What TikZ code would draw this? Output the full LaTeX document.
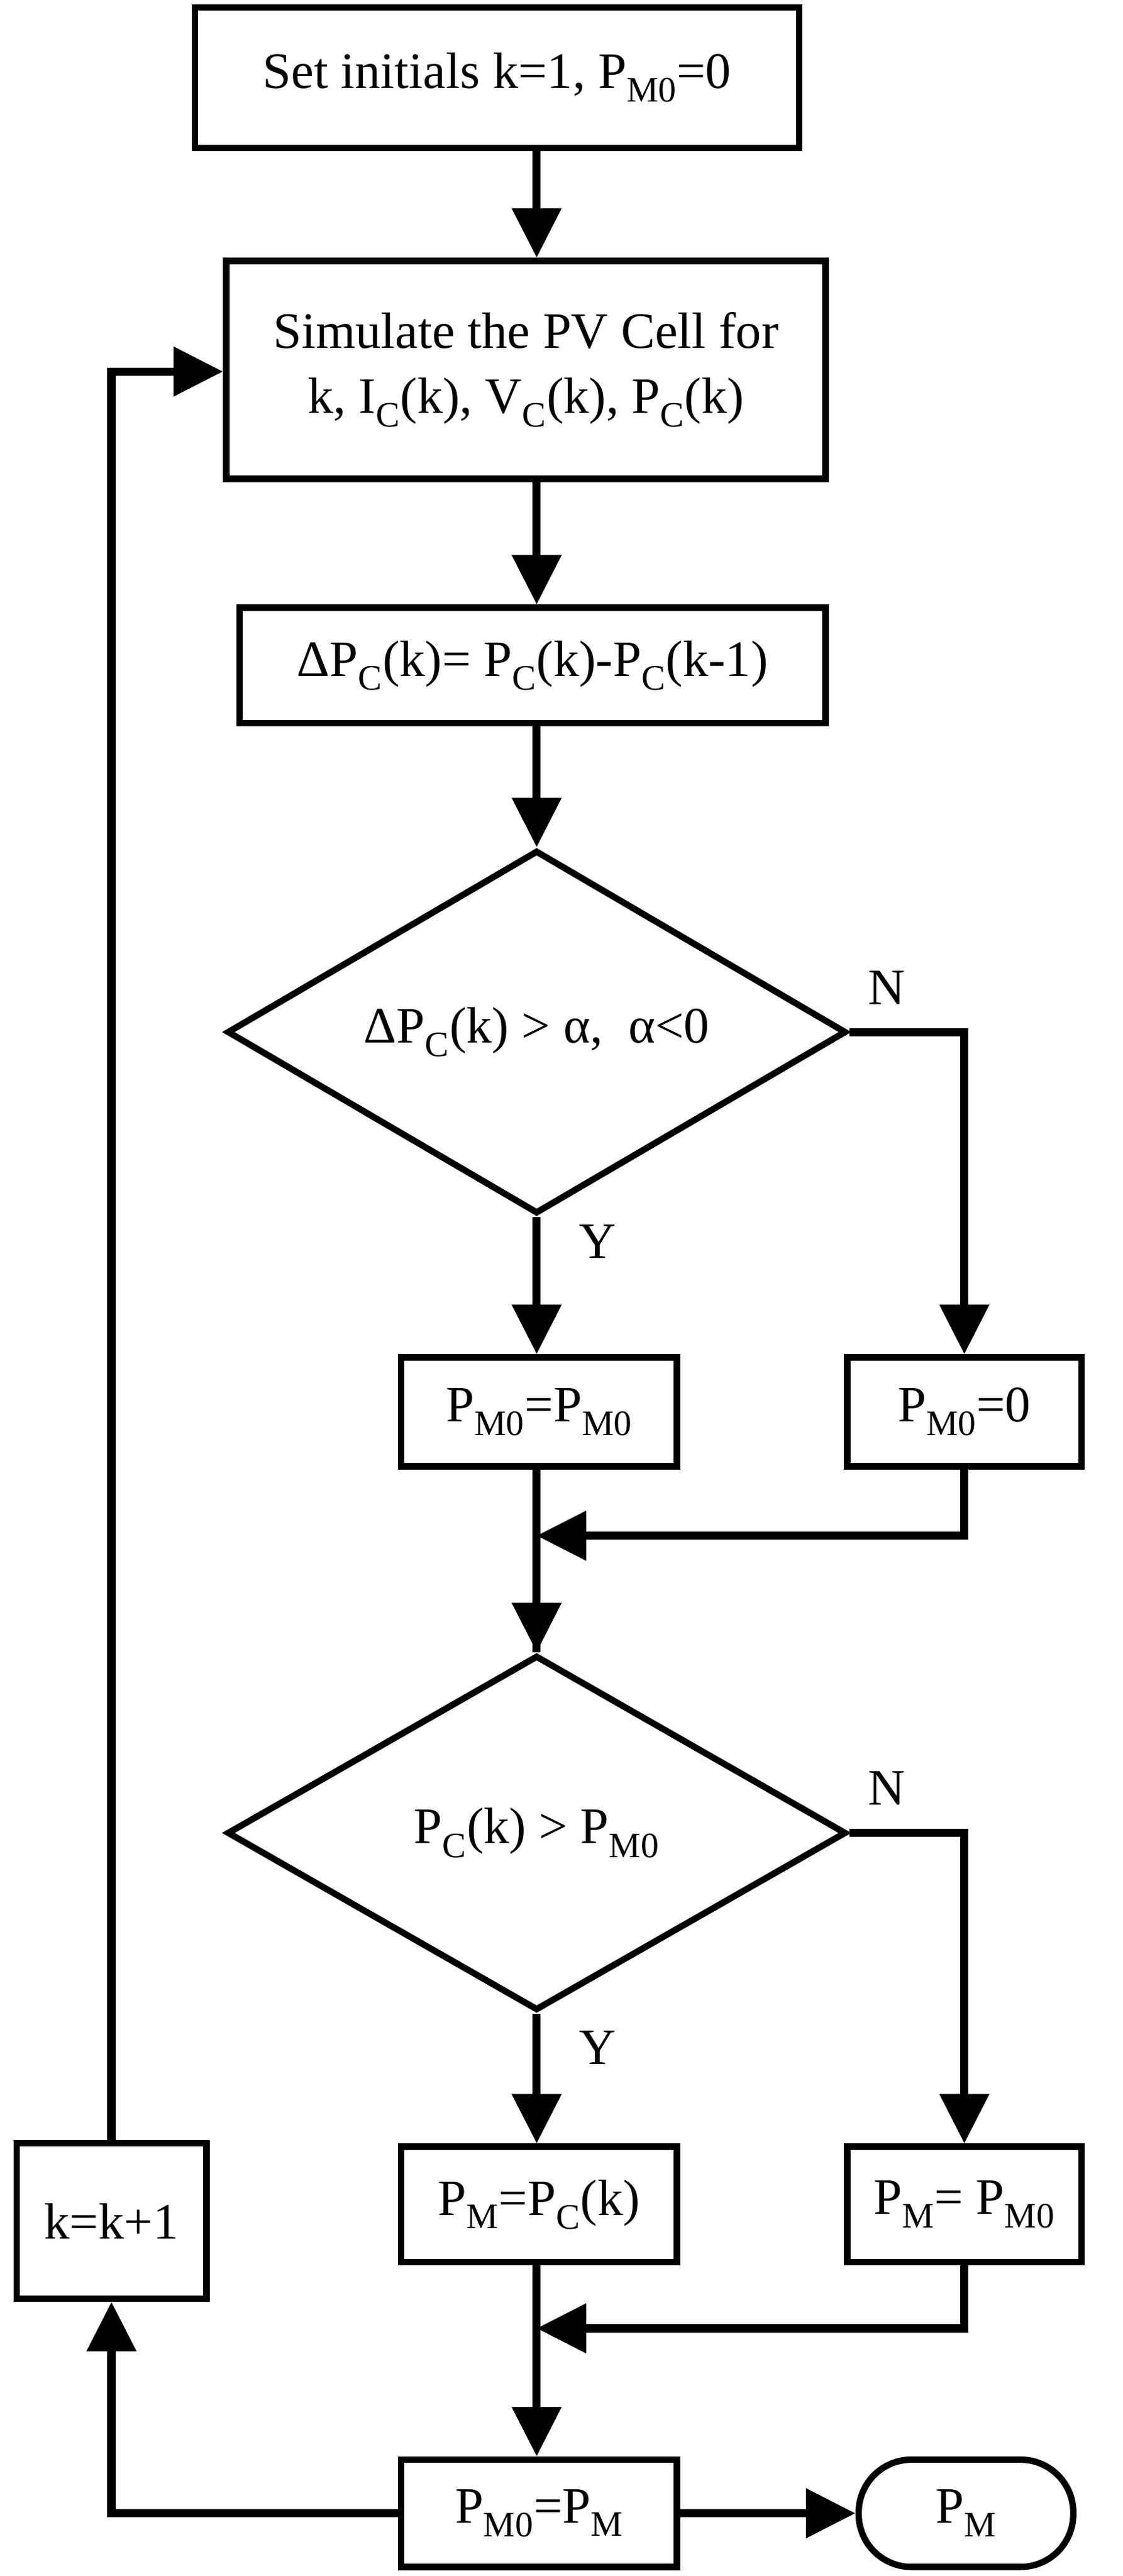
\documentclass[tikz,border=0pt]{standalone}
\usepackage{fontspec}
\setmainfont{Liberation Serif}
\usetikzlibrary{arrows.meta,shapes.geometric}
\begin{document}
\begin{tikzpicture}[x=0.05cm,y=-0.05cm,
  every node/.style={font=\fontsize{44}{54}\selectfont},
  box/.style={draw,line width=5.5pt,inner sep=0pt,align=center},
  ln/.style={line width=7pt},
  ar/.style={line width=7pt,-{Triangle[length=1.5cm,width=1.45cm]}}]
\useasboundingbox (0,0) rectangle (680,1560);
\node[box,minimum width=18.3cm,minimum height=4.25cm] (b1) at (301,47) {Set initials k=1, P$_{\mathrm{M0}}$=0};
\node[box,minimum width=18.15cm,minimum height=6.6cm] (b2) at (318.5,224) {Simulate the PV Cell for\\[2pt] k, I$_{\mathrm{C}}$(k), V$_{\mathrm{C}}$(k), P$_{\mathrm{C}}$(k)};
\node[box,minimum width=17.75cm,minimum height=3.5cm] (b3) at (322.5,403) {ΔP$_{\mathrm{C}}$(k)= P$_{\mathrm{C}}$(k)-P$_{\mathrm{C}}$(k-1)};
\node[diamond,draw,line width=5.5pt,minimum width=18.75cm,minimum height=11cm,inner sep=0pt,aspect=1.7] (d1) at (325,625) {};
\node at (325,625) {ΔP$_{\mathrm{C}}$(k) > α,\ \ α<0};
\node[box,minimum width=8.35cm,minimum height=3.3cm] (b4) at (326.5,855) {P$_{\mathrm{M0}}$=P$_{\mathrm{M0}}$};
\node[box,minimum width=7.1cm,minimum height=3.3cm] (b5) at (584,855) {P$_{\mathrm{M0}}$=0};
\node[diamond,draw,line width=5.5pt,minimum width=18.75cm,minimum height=10.75cm,inner sep=0pt,aspect=1.7] (d2) at (325,1110) {};
\node at (325,1110) {P$_{\mathrm{C}}$(k) > P$_{\mathrm{M0}}$};
\node[box,minimum width=8.35cm,minimum height=3.5cm] (b6) at (326.5,1335) {P$_{\mathrm{M}}$=P$_{\mathrm{C}}$(k)};
\node[box,minimum width=7.1cm,minimum height=3.5cm] (b7) at (584,1335) {P$_{\mathrm{M}}$= P$_{\mathrm{M0}}$};
\node[box,minimum width=8.35cm,minimum height=3.25cm] (b8) at (326.5,1522) {P$_{\mathrm{M0}}$=P$_{\mathrm{M}}$};
\node[box,rounded corners=1.6cm,minimum width=6.5cm,minimum height=3.25cm] (t) at (585,1522) {P$_{\mathrm{M}}$};
\node[box,minimum width=5.75cm,minimum height=4.7cm] (k) at (67.5,1345) {k=k+1};
\node at (362,752) {Y};
\node at (537,598) {N};
\node at (362,1240) {Y};
\node at (537,1083) {N};
\coordinate (m1) at (325,930);
\coordinate (m2) at (325,1410);
\draw[ar] (b1.south -| d1) -- (b2.north -| d1);
\draw[ar] (b2.south -| d1) -- (b3.north -| d1);
\draw[ar] (b3.south -| d1) -- (d1.north);
\draw[ar] (d1.south) -- (b4.north -| d1);
\draw[ar] (d1.east) -| (b5.north);
\draw[ln] (b4.south -| d1) -- (d2.north);
\draw[ar] (b5.south) |- (m1);
\draw[ar] (m1) -- (d2.north);
\draw[ar] (d2.south) -- (b6.north -| d2);
\draw[ar] (d2.east) -| (b7.north);
\draw[ar] (b6.south -| d2) -- (b8.north -| d2);
\draw[ar] (b7.south) |- (m2);
\draw[ar] (b8) -- (t);
\draw[ar] (b8.west) -| (k.south);
\draw[ar] (k.north) |- (b2.west |- 0,225);
\end{tikzpicture}
\end{document}
